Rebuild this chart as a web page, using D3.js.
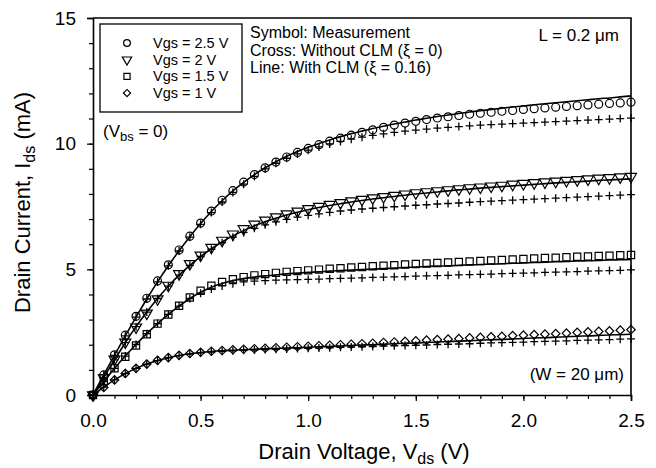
<!DOCTYPE html>
<html>
<head>
<meta charset="utf-8">
<script src="https://cdn.jsdelivr.net/npm/d3@7"></script>
<style>
  body { margin: 0; background: #fff; }
  svg { font-family: "Liberation Sans", Arial, Helvetica, sans-serif; }
</style>
</head>
<body>
<div id="chart"></div>
<script>
// drain voltage grid (V)
var vds = [0, 0.05, 0.1, 0.15, 0.2, 0.25, 0.3, 0.35, 0.4, 0.45, 0.5, 0.55, 0.6, 0.65, 0.7, 0.75, 0.8, 0.85, 0.9, 0.95,
  1.0, 1.05, 1.1, 1.15, 1.2, 1.25, 1.3, 1.35, 1.4, 1.45, 1.5, 1.55, 1.6, 1.65, 1.7, 1.75, 1.8, 1.85, 1.9, 1.95,
  2.0, 2.05, 2.1, 2.15, 2.2, 2.25, 2.3, 2.35, 2.4, 2.45, 2.5];

// measurement (symbols), mA
var meas25 = [0, 0.8, 1.6, 2.38, 3.13, 3.85, 4.54, 5.18, 5.77, 6.32, 6.84, 7.32, 7.75, 8.13, 8.47, 8.77, 9.04, 9.27, 9.47, 9.65,
  9.81, 9.96, 10.1, 10.22, 10.34, 10.45, 10.55, 10.65, 10.74, 10.82, 10.89, 10.96, 11.02, 11.07, 11.12, 11.17, 11.21, 11.25, 11.29, 11.32,
  11.36, 11.39, 11.42, 11.45, 11.48, 11.51, 11.54, 11.57, 11.6, 11.62, 11.65];
var meas20 = [0, 0.68, 1.42, 2.1, 2.7, 3.25, 3.82, 4.36, 4.82, 5.22, 5.56, 5.87, 6.15, 6.4, 6.61, 6.79, 6.95, 7.08, 7.2, 7.31,
  7.41, 7.5, 7.58, 7.65, 7.72, 7.78, 7.84, 7.89, 7.94, 7.99, 8.04, 8.08, 8.12, 8.16, 8.2, 8.24, 8.27, 8.31, 8.34, 8.38,
  8.41, 8.44, 8.47, 8.5, 8.53, 8.56, 8.59, 8.62, 8.64, 8.67, 8.69];
var meas15 = [0, 0.55, 1.06, 1.52, 1.97, 2.42, 2.84, 3.2, 3.55, 3.88, 4.15, 4.35, 4.5, 4.61, 4.69, 4.76, 4.81, 4.86, 4.9, 4.93,
  4.96, 4.99, 5.02, 5.04, 5.07, 5.09, 5.12, 5.14, 5.16, 5.19, 5.21, 5.23, 5.25, 5.27, 5.29, 5.31, 5.33, 5.35, 5.37, 5.39,
  5.41, 5.43, 5.45, 5.46, 5.48, 5.5, 5.51, 5.53, 5.54, 5.56, 5.57];
var meas10 = [0, 0.3, 0.6, 0.86, 1.06, 1.23, 1.38, 1.49, 1.58, 1.65, 1.7, 1.74, 1.77, 1.8, 1.82, 1.84, 1.86, 1.88, 1.9, 1.92,
  1.94, 1.96, 1.98, 2.0, 2.02, 2.04, 2.06, 2.09, 2.11, 2.13, 2.15, 2.18, 2.2, 2.22, 2.24, 2.27, 2.29, 2.31, 2.33, 2.36,
  2.38, 2.4, 2.42, 2.44, 2.46, 2.49, 2.51, 2.53, 2.55, 2.58, 2.6];

// model without CLM (crosses), mA
var noClm25 = [0, 0.8, 1.58, 2.35, 3.1, 3.82, 4.5, 5.14, 5.73, 6.28, 6.79, 7.26, 7.68, 8.06, 8.39, 8.7, 9.0, 9.22, 9.42, 9.59,
  9.74, 9.87, 9.99, 10.09, 10.18, 10.26, 10.33, 10.39, 10.45, 10.5, 10.54, 10.58, 10.62, 10.65, 10.68, 10.71, 10.74, 10.76, 10.78, 10.8,
  10.82, 10.84, 10.86, 10.88, 10.9, 10.92, 10.94, 10.96, 10.98, 11.0, 11.02];
var noClm20 = [0, 0.7, 1.4, 2.08, 2.72, 3.3, 3.84, 4.33, 4.77, 5.16, 5.51, 5.8, 6.06, 6.28, 6.47, 6.63, 6.77, 6.89, 6.99, 7.08,
  7.15, 7.21, 7.27, 7.32, 7.36, 7.4, 7.43, 7.46, 7.49, 7.52, 7.55, 7.57, 7.6, 7.62, 7.64, 7.67, 7.69, 7.71, 7.73, 7.75,
  7.77, 7.79, 7.81, 7.83, 7.85, 7.87, 7.89, 7.91, 7.93, 7.95, 7.97];
var noClm15 = [0, 0.54, 1.06, 1.55, 2.01, 2.44, 2.84, 3.21, 3.54, 3.84, 4.05, 4.22, 4.34, 4.43, 4.5, 4.53, 4.55, 4.57, 4.58, 4.59,
  4.6, 4.61, 4.63, 4.64, 4.65, 4.66, 4.68, 4.69, 4.7, 4.71, 4.73, 4.74, 4.75, 4.76, 4.78, 4.79, 4.8, 4.81, 4.83, 4.84,
  4.85, 4.86, 4.88, 4.89, 4.9, 4.91, 4.93, 4.94, 4.95, 4.96, 4.98];
var noClm10 = [0, 0.31, 0.6, 0.85, 1.06, 1.23, 1.37, 1.48, 1.57, 1.63, 1.68, 1.71, 1.74, 1.76, 1.78, 1.79, 1.81, 1.82, 1.83, 1.85,
  1.86, 1.87, 1.88, 1.9, 1.91, 1.92, 1.93, 1.95, 1.96, 1.97, 1.98, 1.99, 2.01, 2.02, 2.03, 2.04, 2.06, 2.07, 2.08, 2.09,
  2.1, 2.12, 2.13, 2.14, 2.15, 2.17, 2.18, 2.19, 2.2, 2.22, 2.23];

// model with CLM, xi = 0.16 (lines), mA
var clm25 = [0, 0.8, 1.58, 2.35, 3.1, 3.82, 4.5, 5.14, 5.74, 6.3, 6.82, 7.3, 7.73, 8.12, 8.46, 8.77, 9.04, 9.28, 9.5, 9.69,
  9.86, 10.01, 10.15, 10.28, 10.4, 10.5, 10.6, 10.69, 10.78, 10.86, 10.94, 11.01, 11.08, 11.14, 11.2, 11.26, 11.31, 11.36, 11.41, 11.46,
  11.5, 11.55, 11.59, 11.63, 11.67, 11.71, 11.75, 11.79, 11.82, 11.86, 11.9];
var clm20 = [0, 0.7, 1.4, 2.08, 2.72, 3.3, 3.84, 4.33, 4.77, 5.16, 5.51, 5.82, 6.09, 6.33, 6.54, 6.73, 6.89, 7.03, 7.16, 7.27,
  7.37, 7.46, 7.54, 7.61, 7.68, 7.74, 7.8, 7.85, 7.9, 7.95, 8.0, 8.04, 8.08, 8.12, 8.16, 8.19, 8.23, 8.26, 8.29, 8.32,
  8.35, 8.38, 8.41, 8.44, 8.46, 8.49, 8.51, 8.54, 8.56, 8.58, 8.6];
var clm15 = [0, 0.54, 1.06, 1.55, 2.01, 2.44, 2.84, 3.21, 3.54, 3.84, 4.09, 4.29, 4.44, 4.55, 4.63, 4.69, 4.74, 4.78, 4.82, 4.85,
  4.88, 4.9, 4.93, 4.95, 4.97, 4.99, 5.01, 5.03, 5.05, 5.07, 5.09, 5.11, 5.13, 5.14, 5.16, 5.18, 5.19, 5.21, 5.22, 5.24,
  5.25, 5.27, 5.28, 5.3, 5.31, 5.33, 5.34, 5.35, 5.37, 5.38, 5.39];
var clm10 = [0, 0.31, 0.6, 0.85, 1.06, 1.23, 1.37, 1.48, 1.57, 1.64, 1.69, 1.73, 1.76, 1.78, 1.8, 1.82, 1.84, 1.85, 1.87, 1.88,
  1.9, 1.92, 1.93, 1.95, 1.97, 1.99, 2.0, 2.02, 2.04, 2.06, 2.07, 2.09, 2.11, 2.13, 2.14, 2.16, 2.18, 2.2, 2.21, 2.23,
  2.25, 2.27, 2.28, 2.3, 2.32, 2.34, 2.35, 2.37, 2.39, 2.4, 2.42];

var legendLabels = ["Vgs = 2.5 V", "Vgs = 2 V", "Vgs = 1.5 V", "Vgs = 1 V"];
var xTicks = [0, 0.5, 1.0, 1.5, 2.0, 2.5];
var yTicks = [0, 5, 10, 15];

var width = 656, height = 468,
  margin = {top: 18, right: 25, bottom: 73, left: 93};

var svg = d3.select("#chart").append("svg")
  .attr("width", width).attr("height", height);

var x = d3.scaleLinear().domain([0, 2.5]).range([margin.left, width - margin.right]);
var y = d3.scaleLinear().domain([0, 15]).range([height - margin.bottom, margin.top]);

// minor ticks
svg.append("g")
  .attr("transform", `translate(0,${y(0)})`)
  .call(d3.axisBottom(x).tickValues(d3.range(0, 2.51, 0.1)).tickSize(4).tickFormat(""))
  .call(g => g.select(".domain").remove());
svg.append("g")
  .attr("transform", `translate(${x(0)},0)`)
  .call(d3.axisLeft(y).tickValues(d3.range(0, 15.1, 1)).tickSize(4).tickFormat(""))
  .call(g => g.select(".domain").remove());

// major ticks + labels
var xAxis = svg.append("g")
  .attr("transform", `translate(0,${y(0)})`)
  .call(d3.axisBottom(x).tickValues(xTicks).tickSize(6).tickPadding(13).tickFormat(d3.format(".1f")));
var yAxis = svg.append("g")
  .attr("transform", `translate(${x(0)},0)`)
  .call(d3.axisLeft(y).tickValues(yTicks).tickSize(6).tickPadding(11).tickFormat(d3.format("d")));

[xAxis, yAxis].forEach(function(g){
  g.selectAll("text").attr("font-size", 19).attr("font-family", "Liberation Sans, Arial, sans-serif").attr("fill", "#000");
  g.selectAll("line").attr("stroke", "#000");
  g.select(".domain").attr("stroke-width", 1.6);
});
svg.selectAll(".tick line").attr("stroke-width", 1.2);

// top + right border
svg.append("path")
  .attr("d", `M${x(0)},${y(15)}H${x(2.5)}V${y(0)}`)
  .attr("fill", "none").attr("stroke", "#000").attr("stroke-width", 1.6);

// axis titles
var xt = svg.append("text")
  .attr("x", (x(0) + x(2.5)) / 2 + 2).attr("y", 459)
  .attr("text-anchor", "middle").attr("font-size", 22);
xt.append("tspan").text("Drain Voltage, V");
xt.append("tspan").attr("font-size", 16).attr("dy", 5).text("ds");
xt.append("tspan").attr("dy", -5).text(" (V)");

var yt = svg.append("text")
  .attr("transform", `translate(30,${(y(0) + y(15)) / 2 - 4}) rotate(-90)`)
  .attr("text-anchor", "middle").attr("font-size", 22);
yt.append("tspan").text("Drain Current, I");
yt.append("tspan").attr("font-size", 16).attr("dy", 5).text("ds");
yt.append("tspan").attr("dy", -5).text(" (mA)");

var series = [
  {meas: meas25, noClm: noClm25, clm: clm25, sym: "circle"},
  {meas: meas20, noClm: noClm20, clm: clm20, sym: "triangle"},
  {meas: meas15, noClm: noClm15, clm: clm15, sym: "square"},
  {meas: meas10, noClm: noClm10, clm: clm10, sym: "diamond"}
];

function symbolPath(type, s) {
  if (type == "circle") return d3.symbol(d3.symbolCircle, 50 * s * s)();
  if (type == "square") return d3.symbol(d3.symbolSquare, 52 * s * s)();
  if (type == "diamond") return d3.symbol(d3.symbolSquare, 36 * s * s)();
  return d3.symbol(d3.symbolTriangle, 52 * s * s)();
}
function symbolRotate(type) {
  if (type == "triangle") return " rotate(180)";
  if (type == "diamond") return " rotate(45)";
  return "";
}

var line = d3.line()
  .x(function(d){ return x(d[0]); })
  .y(function(d){ return y(d[1]); })
  .curve(d3.curveMonotoneX);

var plot = svg.append("g");

series.forEach(function(s){
  // crosses
  plot.append("g").selectAll("path")
    .data(d3.zip(vds, s.noClm))
    .enter().append("path")
    .attr("transform", function(d){ return `translate(${x(d[0])},${y(d[1])})`; })
    .attr("d", "M-4,0H4M0,-4V4")
    .attr("stroke", "#000").attr("stroke-width", 1.3).attr("fill", "none");

  // line with CLM
  plot.append("path")
    .datum(d3.zip(vds, s.clm))
    .attr("d", line)
    .attr("fill", "none").attr("stroke", "#000").attr("stroke-width", 1.6);

  // measurement symbols
  plot.append("g").selectAll("path")
    .data(d3.zip(vds, s.meas))
    .enter().append("path")
    .attr("transform", function(d){ return `translate(${x(d[0])},${y(d[1])})` + symbolRotate(s.sym); })
    .attr("d", symbolPath(s.sym, 1))
    .attr("fill", "none").attr("stroke", "#000").attr("stroke-width", 1.2);
});

// legend box
var leg = svg.append("g");
leg.append("rect")
  .attr("x", 100).attr("y", 24).attr("width", 142).attr("height", 88)
  .attr("fill", "#fff").attr("stroke", "#000").attr("stroke-width", 1.3);
legendLabels.forEach(function(lbl, i){
  var cy = 43 + i * 16.7;
  leg.append("path")
    .attr("transform", `translate(127,${cy})` + symbolRotate(series[i].sym))
    .attr("d", symbolPath(series[i].sym, 0.85))
    .attr("fill", "none").attr("stroke", "#000").attr("stroke-width", 1.2);
  leg.append("text")
    .attr("x", 153).attr("y", cy + 5)
    .attr("font-size", 14.5).text(lbl);
});

// annotations
var notes = ["Symbol: Measurement", "Cross: Without CLM (\u03BE = 0)", "Line: With CLM (\u03BE = 0.16)"];
notes.forEach(function(n, i){
  svg.append("text").attr("x", 250).attr("y", 38 + i * 17.5)
    .attr("font-size", 16).text(n);
});
svg.append("text").attr("x", 619).attr("y", 41)
  .attr("text-anchor", "end").attr("font-size", 17).text("L = 0.2 \u03BCm");

var vbs = svg.append("text").attr("x", 103).attr("y", 137).attr("font-size", 17);
vbs.append("tspan").text("(V");
vbs.append("tspan").attr("font-size", 13).attr("dy", 4).text("bs");
vbs.append("tspan").attr("dy", -4).text(" = 0)");

svg.append("text").attr("x", 624).attr("y", 380)
  .attr("text-anchor", "end").attr("font-size", 17).text("(W = 20 \u03BCm)");
</script>
</body>
</html>
